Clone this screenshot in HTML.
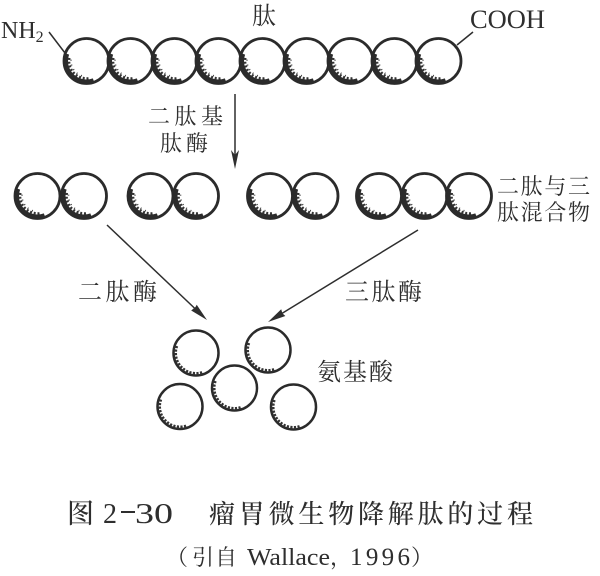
<!DOCTYPE html>
<html>
<head>
<meta charset="utf-8">
<style>
html,body{margin:0;padding:0;background:#fff;}
svg{display:block;}
.cj{font-family:"Noto Serif CJK SC",serif;fill:#2e2e2e;}
.lt{font-family:"Liberation Serif",serif;fill:#2e2e2e;}
</style>
</head>
<body>
<svg width="600" height="576" viewBox="0 0 600 576" xmlns="http://www.w3.org/2000/svg">
<defs>
  <g id="b">
    <circle cx="0" cy="0" r="22.5" fill="none" stroke="#2b2b2b" stroke-width="2.8"/>
    <path d="M -19.26 -7.01 A 20.5 20.5 0 0 0 7.01 19.26" fill="none" stroke="#2b2b2b" stroke-width="4"/>
    <path d="M -17.23 -3.04 A 17.5 17.5 0 0 0 3.04 17.23" fill="none" stroke="#333" stroke-width="2.6" stroke-dasharray="2 1.8"/>
    <path d="M -15.44 -1.35 A 15.5 15.5 0 0 0 -1.35 15.44" fill="none" stroke="#444" stroke-width="1.6" stroke-dasharray="1 4"/>
  </g>
  <g id="s">
    <circle cx="0" cy="0" r="22.5" fill="none" stroke="#2b2b2b" stroke-width="2.5"/>
    <path d="M -19.26 -7.01 A 20.5 20.5 0 0 0 7.01 19.26" fill="none" stroke="#333" stroke-width="3" stroke-dasharray="2.2 1.4"/>
  </g>
</defs>

<!-- top peptide chain -->
<use href="#b" x="86.5" y="61"/>
<use href="#b" x="130.5" y="61"/>
<use href="#b" x="174.5" y="61"/>
<use href="#b" x="218.5" y="61"/>
<use href="#b" x="262.5" y="61"/>
<use href="#b" x="306.5" y="61"/>
<use href="#b" x="350.5" y="61"/>
<use href="#b" x="394.5" y="61"/>
<use href="#b" x="438.5" y="61"/>

<line x1="49" y1="32" x2="65" y2="53" stroke="#2e2e2e" stroke-width="1.5"/>
<line x1="457" y1="45" x2="473" y2="32" stroke="#2e2e2e" stroke-width="1.5"/>

<text class="lt" x="1" y="38" font-size="24">NH<tspan font-size="16" dy="4">2</tspan></text>
<text class="lt" x="470" y="28" font-size="26" textLength="75" lengthAdjust="spacingAndGlyphs">COOH</text>
<text class="cj" x="252" y="24" font-size="24">肽</text>

<!-- vertical arrow -->
<line x1="235" y1="94" x2="235" y2="160" stroke="#2e2e2e" stroke-width="1.5"/>
<polygon points="235,169 231,150 235,155 239,150" fill="#2e2e2e"/>
<text class="cj" x="148" y="124" font-size="22" textLength="75" lengthAdjust="spacing">二肽基</text>
<text class="cj" x="160" y="151" font-size="22" textLength="48" lengthAdjust="spacing">肽酶</text>

<!-- second row -->
<use href="#b" x="37.5" y="196"/>
<use href="#b" x="84" y="196"/>
<use href="#b" x="150.5" y="196"/>
<use href="#b" x="196" y="196"/>
<use href="#b" x="270" y="196"/>
<use href="#b" x="315.5" y="196"/>
<use href="#b" x="379" y="196"/>
<use href="#b" x="424.5" y="196"/>
<use href="#b" x="469" y="196"/>

<text class="cj" x="497" y="194" font-size="22" textLength="93" lengthAdjust="spacing">二肽与三</text>
<text class="cj" x="497" y="220" font-size="22" textLength="93" lengthAdjust="spacing">肽混合物</text>

<!-- diagonal arrows -->
<line x1="107" y1="225" x2="197" y2="310.5" stroke="#2e2e2e" stroke-width="1.5"/>
<polygon points="207,320 191.2,310.5 195.5,307 196.7,304.7" fill="#2e2e2e"/>
<line x1="418" y1="230" x2="280" y2="314.6" stroke="#2e2e2e" stroke-width="1.5"/>
<polygon points="268,322 281.2,309.2 282.5,313.5 285.4,316" fill="#2e2e2e"/>

<text class="cj" x="78" y="300" font-size="24" textLength="79" lengthAdjust="spacing">二肽酶</text>
<text class="cj" x="345" y="300" font-size="24" textLength="77" lengthAdjust="spacing">三肽酶</text>

<!-- amino acids -->
<use href="#s" x="196" y="353"/>
<use href="#s" x="268" y="350"/>
<use href="#s" x="234.5" y="388"/>
<use href="#s" x="180" y="406.5"/>
<use href="#s" x="293.5" y="407"/>

<text class="cj" x="317" y="380" font-size="24" textLength="76" lengthAdjust="spacing">氨基酸</text>

<!-- caption -->
<text class="cj" x="67" y="523" font-size="27" font-weight="500">图</text>
<text class="lt" x="103" y="523" font-size="28">2</text>
<rect x="121" y="511" width="14" height="2" fill="#2e2e2e"/>
<text class="lt" x="135" y="523" font-size="28" textLength="38" lengthAdjust="spacingAndGlyphs">30</text>
<text class="cj" x="209" y="523" font-size="26" font-weight="500" textLength="324" lengthAdjust="spacing">瘤胃微生物降解肽的过程</text>

<text class="cj" x="166" y="565" font-size="22">（</text>
<text class="cj" x="192" y="565" font-size="22">引</text>
<text class="cj" x="215" y="565" font-size="22">自</text>
<text class="lt" x="247" y="565" font-size="24" textLength="83" lengthAdjust="spacingAndGlyphs">Wallace</text>
<text class="cj" x="330" y="565" font-size="22">，</text>
<text class="lt" x="350" y="565" font-size="25" textLength="60" lengthAdjust="spacing">1996</text>
<text class="cj" x="411" y="565" font-size="22">）</text>
</svg>
</body>
</html>
